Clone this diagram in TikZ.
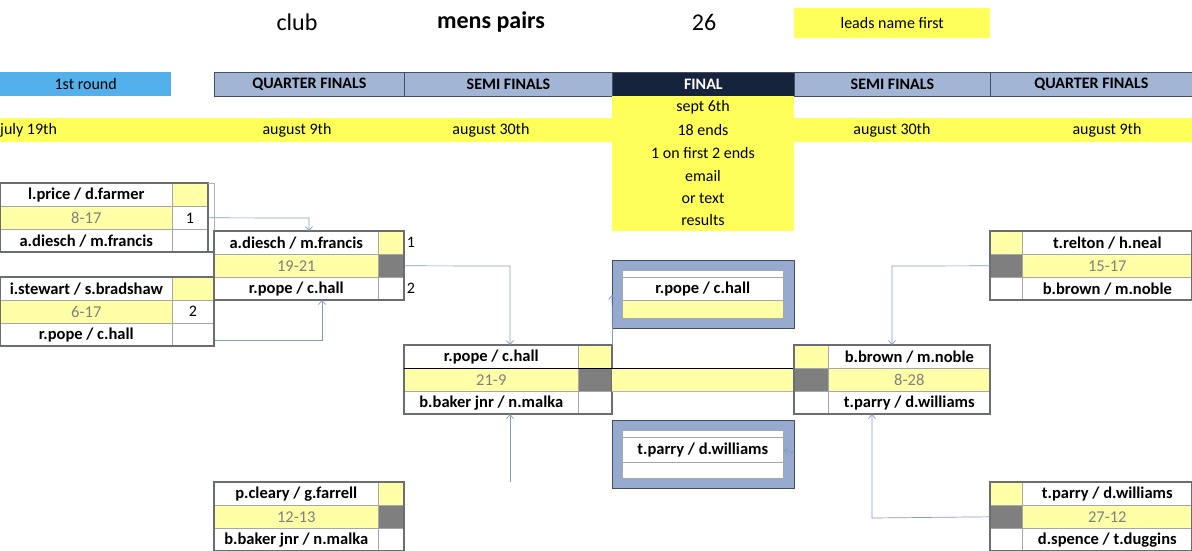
\documentclass[tikz,border=0pt]{standalone}
\usepackage{fontspec}
\setmainfont{Carlito}
\usetikzlibrary{arrows.meta}
\definecolor{pale}{HTML}{FFFFA8}
\definecolor{brite}{HTML}{FFFF5A}
\definecolor{hdr}{HTML}{A3B5D4}
\definecolor{navy}{HTML}{15233C}
\definecolor{lb}{HTML}{54B0EA}
\definecolor{conn}{HTML}{7F9CC8}
\definecolor{frame}{HTML}{96AACF}
\definecolor{gcell}{HTML}{7F7F7F}
\definecolor{stxt}{HTML}{808080}
\tikzset{
 cell/.style={draw=gray!70, line width=0.6pt, anchor=north west, inner sep=0pt, font=\fontsize{16.5}{18}\selectfont\bfseries},
 scorecell/.style={cell, fill=pale, font=\fontsize{16.5}{18}\selectfont, text=stxt},
 hdrbox/.style={draw=navy!80, line width=0.8pt, fill=hdr, anchor=north west, inner sep=0pt, minimum height=24pt, font=\fontsize{16}{18}\selectfont\bfseries},
 datetxt/.style={font=\fontsize{16}{18}\selectfont},
 link/.style={draw=conn, line width=0.7pt, -{Straight Barb[length=4pt,width=7pt]}},
 outer/.style={draw=gray!80!navy, line width=1.2pt}
}
\newcommand\matchL[9]{%
 \node[cell, minimum width=#4, minimum height=23] (#1t) at (#2,#3) {#6};
 \node[scorecell, minimum width=#4, minimum height=23] (#1s) at (#2,#3+23) {#7};
 \node[cell, minimum width=#4, minimum height=23] (#1b) at (#2,#3+46) {#8};
 \node[cell, fill=pale, minimum width=#5, minimum height=23] (#1x) at (#2+#4,#3) {};
 \node[cell, fill=#9, minimum width=#5, minimum height=23] (#1y) at (#2+#4,#3+23) {};
 \node[cell, minimum width=#5, minimum height=23] (#1z) at (#2+#4,#3+46) {};
 \draw[outer] (#2,#3) rectangle (#2+#4+#5,#3+69);
}
\newcommand\matchR[9]{%
 \node[cell, fill=pale, minimum width=#5, minimum height=23] (#1x) at (#2,#3) {};
 \node[cell, fill=#9, minimum width=#5, minimum height=23] (#1y) at (#2,#3+23) {};
 \node[cell, minimum width=#5, minimum height=23] (#1z) at (#2,#3+46) {};
 \node[cell, minimum width=#4, minimum height=23] (#1t) at (#2+#5,#3) {#6};
 \node[scorecell, minimum width=#4, minimum height=23] (#1s) at (#2+#5,#3+23) {#7};
 \node[cell, minimum width=#4, minimum height=23] (#1b) at (#2+#5,#3+46) {#8};
 \draw[outer] (#2,#3) rectangle (#2+#4+#5,#3+69);
}
\begin{document}
\begin{tikzpicture}[x=1pt,y=-1pt]
\useasboundingbox (0,0) rectangle (1192,550);
\node[font=\fontsize{24}{28}\selectfont] (club) at (297,22) {club};
\node[font=\fontsize{24}{28}\selectfont\bfseries] (mp) at (491,22) {mens pairs};
\node[font=\fontsize{24}{28}\selectfont] (num) at (704,22) {26};
\node[fill=brite, anchor=north west, minimum width=196, minimum height=30, inner sep=0pt, datetxt] (lead) at (794,8) {leads name first};
\node[fill=lb, anchor=north west, minimum width=171, minimum height=24, inner sep=0pt, datetxt] (r1) at (0,72) {1st round};
\node[hdrbox, minimum width=190] (qfl) at (214,72) {QUARTER FINALS};
\node[hdrbox, minimum width=208] (sfl) at (404,72) {SEMI FINALS};
\node[hdrbox, fill=navy, text=white, minimum width=182] (fin) at (612,72) {FINAL};
\node[hdrbox, minimum width=196] (sfr) at (794,72) {SEMI FINALS};
\node[hdrbox, minimum width=202] (qfr) at (990,72) {QUARTER FINALS};
\fill[brite] (0,118) rectangle (1192,142);
\fill[brite] (612,96) rectangle (794,231);
\node[datetxt, anchor=west, inner sep=0pt] (d1) at (0,130) {july 19th};
\node[datetxt] (d2) at (297,130) {august 9th};
\node[datetxt] (d3) at (491,130) {august 30th};
\node[datetxt] (d4) at (892,130) {august 30th};
\node[datetxt] (d5) at (1107,130) {august 9th};
\node[datetxt] (f1) at (703,107) {sept 6th};
\node[datetxt] (f2) at (703,130) {18 ends};
\node[datetxt] (f3) at (703,153) {1 on first 2 ends};
\node[datetxt] (f4) at (703,176) {email};
\node[datetxt] (f5) at (703,198) {or text};
\node[datetxt] (f6) at (703,220) {results};
\matchL{ma}{0}{183}{172}{36}{l.price / d.farmer}{8-17}{a.diesch / m.francis}{white}
\draw[gray!60, line width=0.8pt] (208,183) -- (214,183) -- (214,252) -- (208,252);
\node[font=\fontsize{16}{18}\selectfont] (na) at (190,218) {1};
\matchL{mb}{0}{277}{172}{42}{i.stewart / s.bradshaw}{6-17}{r.pope / c.hall}{white}
\draw[gray!80!navy, line width=1.2pt] (0,252) -- (214,252);
\node[font=\fontsize{16}{18}\selectfont] (nb) at (193,311) {2};
\matchL{qa}{214}{231}{164}{26}{a.diesch / m.francis}{19-21}{r.pope / c.hall}{gcell}
\node[font=\fontsize{16}{18}\selectfont] (qa1) at (411,242) {1};
\node[font=\fontsize{16}{18}\selectfont] (qa2) at (411,288) {2};
\matchL{qb}{214}{482}{164}{26}{p.cleary / g.farrell}{12-13}{b.baker jnr / n.malka}{gcell}
\matchL{sa}{404}{345}{174}{34}{r.pope / c.hall}{21-9}{b.baker jnr / n.malka}{gcell}
\fill[pale] (612,368) rectangle (794,391);
\draw[black, line width=0.6pt] (404,368) -- (794,368);
\draw[gray!60, line width=0.6pt] (612,391) -- (794,391);
\matchR{sb}{794}{345}{162}{34}{b.brown / m.noble}{8-28}{t.parry / d.williams}{gcell}
\matchR{qc}{990}{231}{170}{32}{t.relton / h.neal}{15-17}{b.brown / m.noble}{gcell}
\matchR{qd}{990}{482}{170}{32}{t.parry / d.williams}{27-12}{d.spence / t.duggins}{gcell}
\fill[frame, draw=navy!80, line width=0.8pt] (612,260) rectangle (794,328);
\node[cell, fill=white, minimum width=161, minimum height=7] (fa0) at (622,270) {};
\node[cell, fill=white, minimum width=161, minimum height=23] (fa) at (622,277) {r.pope / c.hall};
\node[cell, fill=pale, minimum width=161, minimum height=18] (fay) at (622,300) {};
\fill[frame, draw=navy!80, line width=0.8pt] (612,420) rectangle (794,488);
\node[cell, fill=white, minimum width=161, minimum height=7] (fb0) at (622,430) {};
\node[cell, fill=white, minimum width=161, minimum height=25] (fb) at (622,437) {t.parry / d.williams};
\node[cell, fill=white, minimum width=161, minimum height=16] (fby) at (622,462) {};
\draw[link] (may.east) -- (309,218) -- (309,231);
\draw[link] (mbz.east |- 0,340) -- (322,340) -- (322,300);
\draw[link] (qay.east) -- (510,266) -- (510,345);
\draw[link] (qbt.north -| 510,0) -- (510,414);
\draw[link] (sax.north east) -- (612,295);
\draw[link] (qcy.west) -- (892,266) -- (892,345);
\draw[link] (qdy.west) -- (872,518) -- (872,414);
\draw[link] (794,453) -- (fb.east);
\end{tikzpicture}
\end{document}
